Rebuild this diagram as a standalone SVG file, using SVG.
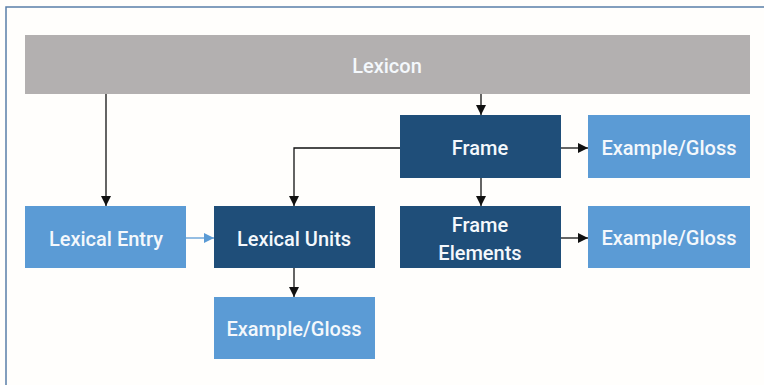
<svg xmlns="http://www.w3.org/2000/svg" width="764" height="385" viewBox="0 0 764 385">
  <defs>
    <marker id="ah" viewBox="0 0 10 10" refX="10" refY="5" markerWidth="10" markerHeight="10" markerUnits="userSpaceOnUse" orient="auto">
      <path d="M0,0 L10,5 L0,10 z" fill="#111"/>
    </marker>
    <marker id="ah-blue" viewBox="0 0 10 10" refX="10" refY="5" markerWidth="10" markerHeight="10" markerUnits="userSpaceOnUse" orient="auto">
      <path d="M0,0 L10,5 L0,10 z" fill="#5b9bd5"/>
    </marker>
  </defs>
  <style>
    .lbl { font-family: Roboto, "Liberation Sans", sans-serif; font-size: 20px; font-weight: 500; fill: #f4f8fc; text-anchor: middle; dominant-baseline: central; }
    .gray { fill: #b3b0b0; }
    .dark { fill: #1f4e79; }
    .light { fill: #5b9bd5; }
    .edge { fill: none; stroke: #111; stroke-width: 1.3; marker-end: url(#ah); }
    .edge-blue { fill: none; stroke: #5b9bd5; stroke-width: 1.3; marker-end: url(#ah-blue); }
  </style>

  <rect x="0" y="0" width="764" height="385" fill="#fffefc"/>
  <!-- panel edge -->
  <path d="M6,385 V7 H764" fill="none" stroke="#5a7fa8" stroke-width="1.5"/>

  <g id="connectors">
    <path class="edge" d="M106,94 V206"/>
    <path class="edge" d="M481,94 V115"/>
    <path class="edge" d="M400,148 H294 V206"/>
    <path class="edge" d="M561,148 H588"/>
    <path class="edge" d="M481,178 V206"/>
    <path class="edge" d="M561,238 H588"/>
    <path class="edge-blue" d="M186,238 H214"/>
    <path class="edge" d="M294,268 V297"/>
  </g>

  <g id="lexicon">
    <rect class="gray" x="25" y="35" width="725" height="59"/>
    <text class="lbl" x="387" y="66">Lexicon</text>
  </g>
  <g id="frame">
    <rect class="dark" x="400" y="115" width="161" height="63"/>
    <text class="lbl" x="480" y="148">Frame</text>
  </g>
  <g id="frame-gloss">
    <rect class="light" x="588" y="115" width="162" height="63"/>
    <text class="lbl" x="669" y="148">Example/Gloss</text>
  </g>
  <g id="lexical-entry">
    <rect class="light" x="25" y="206" width="161" height="62"/>
    <text class="lbl" x="106" y="239">Lexical Entry</text>
  </g>
  <g id="lexical-units">
    <rect class="dark" x="214" y="206" width="161" height="62"/>
    <text class="lbl" x="294" y="239">Lexical Units</text>
  </g>
  <g id="frame-elements">
    <rect class="dark" x="400" y="206" width="161" height="62"/>
    <text class="lbl" x="480" y="225">Frame</text>
    <text class="lbl" x="480" y="253">Elements</text>
  </g>
  <g id="elements-gloss">
    <rect class="light" x="588" y="206" width="162" height="62"/>
    <text class="lbl" x="669" y="238">Example/Gloss</text>
  </g>
  <g id="units-gloss">
    <rect class="light" x="214" y="297" width="161" height="62"/>
    <text class="lbl" x="294" y="329">Example/Gloss</text>
  </g>
</svg>
